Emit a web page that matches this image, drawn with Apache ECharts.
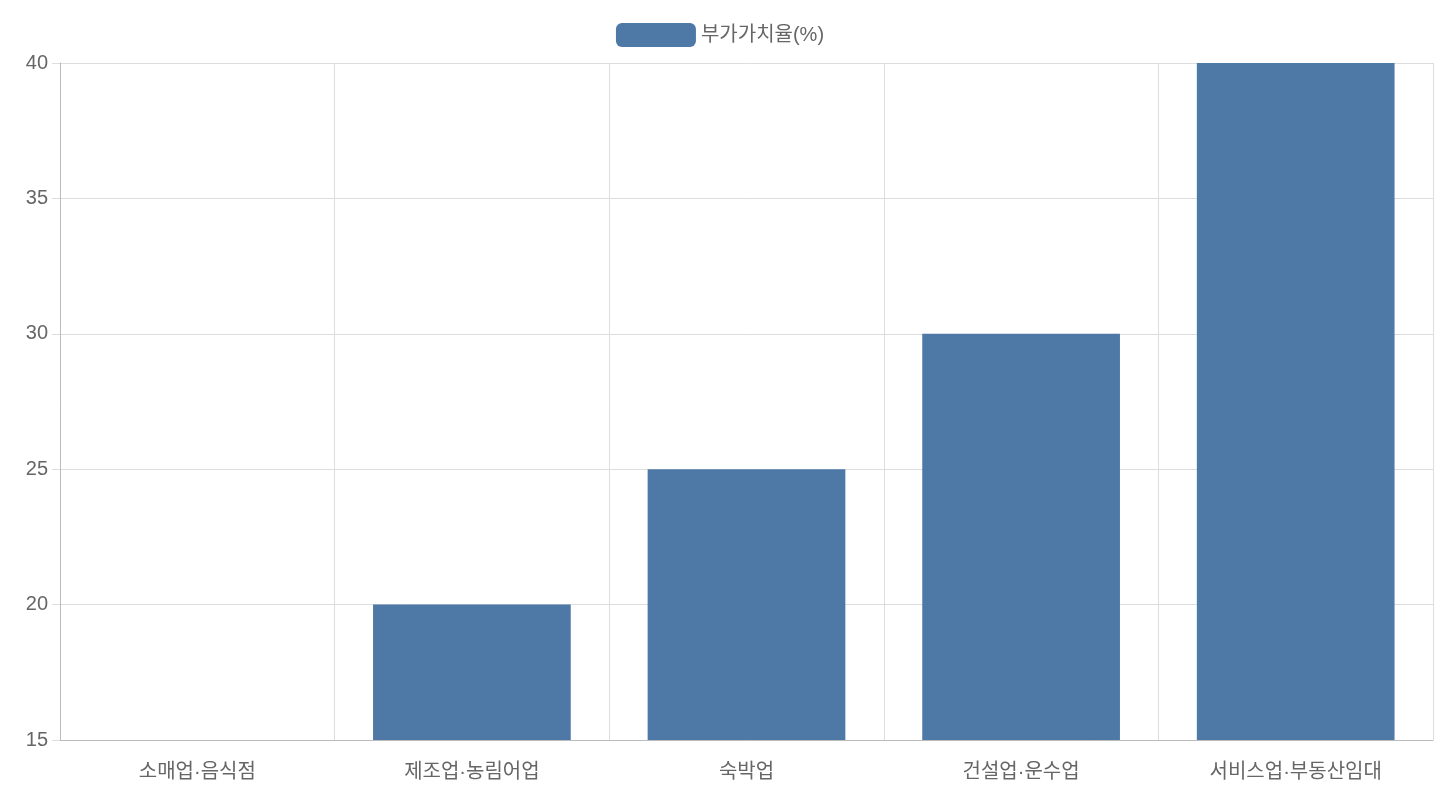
<!DOCTYPE html>
<html><head><meta charset="utf-8">
<script src="https://cdn.jsdelivr.net/npm/echarts@6/dist/echarts.min.js"></script>
<style>html,body{margin:0;padding:0;background:#fff}#c{width:1440px;height:800px}</style>
</head><body><div id="c"></div>
<script>
const categories = ['소매업·음식점','제조업·농림어업','숙박업','건설업·운수업','서비스업·부동산임대'];
const values = [15, 20, 25, 30, 40];
const seriesName = '부가가치율(%)';
const font = '"Liberation Sans","Noto Sans CJK KR",sans-serif';
const chart = echarts.init(document.getElementById('c'));
chart.setOption({
  animation:false,
  legend:{top:18,left:'center',itemWidth:80,itemHeight:24,itemGap:10,
    textStyle:{fontSize:20,color:'#666',fontFamily:font},data:[seriesName]},
  grid:{left:60,right:7,top:63,bottom:60,containLabel:false},
  xAxis:{type:'category',data:categories,
    axisLine:{lineStyle:{color:'#bbb'}},
    axisTick:{length:18,lineStyle:{color:'#ddd'}},
    splitLine:{show:true,lineStyle:{color:'#ddd'}},
    axisLabel:{fontSize:20,color:'#666',fontFamily:font,margin:22}},
  yAxis:{type:'value',min:15,max:40,interval:5,
    axisLine:{show:true,lineStyle:{color:'#bbb'}},
    axisTick:{show:true,length:8,lineStyle:{color:'#ddd'}},
    splitLine:{lineStyle:{color:'#ddd'}},
    axisLabel:{fontSize:20,color:'#666',fontFamily:font,margin:12}},
  series:[{name:seriesName,type:'bar',data:values,barCategoryGap:'28%',
    itemStyle:{color:'#4e79a7'}}]
});
</script></body></html>
